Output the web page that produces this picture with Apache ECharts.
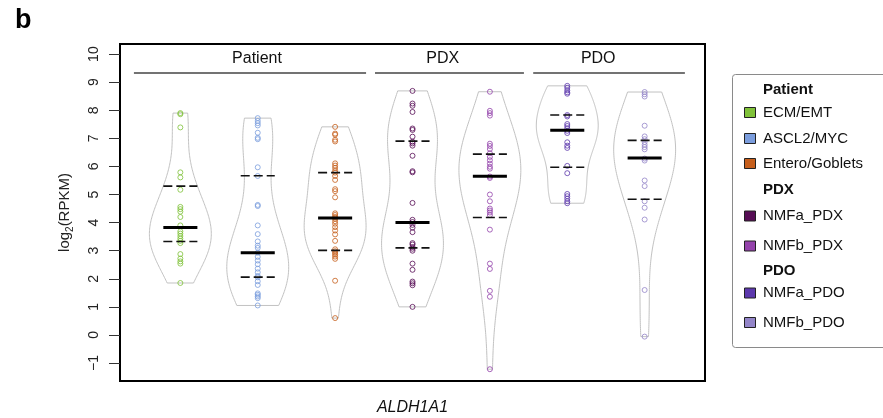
<!DOCTYPE html>
<html>
<head>
<meta charset="utf-8">
<script src="https://cdn.jsdelivr.net/npm/echarts@6/dist/echarts.min.js"></script>
<style>
  html, body { margin: 0; padding: 0; background: #ffffff; }
  #chart { width: 883px; height: 418px; }
</style>
</head>
<body>
<div id="chart"></div>
<script>
// ALDH1A1 expression per subtype, log2(RPKM)
const groupNames = ['ECM/EMT', 'ASCL2/MYC', 'Entero/Goblets', 'NMFa_PDX', 'NMFb_PDX', 'NMFa_PDO', 'NMFb_PDO'];
const groupColors = ['#80c23a', '#7b9ddd', '#c65f1c', '#560d55', '#9443ab', '#5c38ad', '#9385c8'];

const ecmEmt = [7.90, 7.86, 7.39, 5.79, 5.61, 5.17, 4.56, 4.48, 4.39, 4.20, 3.90, 3.69, 3.61, 3.52, 3.43, 3.35, 3.27, 2.88, 2.72, 2.62, 2.54, 1.85];
const ascl2Myc = [7.72, 7.62, 7.54, 7.46, 7.20, 7.02, 6.97, 5.97, 5.66, 4.63, 4.59, 3.90, 3.59, 3.33, 3.18, 3.10, 2.93, 2.78, 2.65, 2.52, 2.36, 2.23, 2.10, 2.05, 1.91, 1.78, 1.48, 1.43, 1.37, 1.31, 1.05];
const enteroGoblets = [7.41, 7.17, 7.13, 6.95, 6.89, 6.11, 6.03, 5.95, 5.85, 5.78, 5.66, 5.52, 5.19, 5.12, 4.90, 4.33, 4.27, 4.20, 4.14, 4.05, 3.96, 3.84, 3.72, 3.58, 3.35, 3.05, 2.98, 2.92, 2.86, 2.79, 2.71, 1.93, 0.60];
const nmfaPdx = [8.69, 8.24, 8.16, 7.94, 7.35, 7.30, 7.06, 6.88, 6.82, 6.74, 6.38, 5.83, 5.79, 4.70, 4.10, 4.02, 3.92, 3.82, 3.66, 3.27, 3.22, 3.13, 3.07, 3.00, 2.54, 2.32, 1.90, 1.84, 1.77, 1.00];
const nmfbPdx = [8.66, 7.98, 7.90, 7.81, 6.81, 6.73, 6.62, 6.47, 6.34, 6.22, 6.10, 5.99, 5.92, 5.64, 5.59, 5.00, 4.76, 4.50, 4.43, 4.36, 4.27, 3.75, 2.54, 2.35, 1.57, 1.36, -1.22];
const nmfaPdo = [8.87, 8.80, 8.71, 8.64, 8.59, 7.83, 7.78, 7.51, 7.44, 7.36, 7.27, 7.19, 6.86, 6.74, 6.66, 6.02, 5.76, 5.02, 4.94, 4.85, 4.76, 4.69];
const nmfbPdo = [8.65, 8.57, 8.49, 7.45, 7.07, 6.97, 6.87, 6.77, 6.69, 6.61, 6.28, 6.21, 5.50, 5.30, 4.76, 4.53, 4.11, 1.60, -0.06];

const medians = [3.83, 2.93, 4.16, 4.00, 5.65, 7.29, 6.30];
const lowerQuartiles = [3.33, 2.06, 3.01, 3.10, 4.18, 5.97, 4.83];
const upperQuartiles = [5.30, 5.67, 5.78, 6.90, 6.44, 7.83, 6.93];

const yTicks = [-1, 0, 1, 2, 3, 4, 5, 6, 7, 8, 9, 10];
const sourceNames = ['Patient', 'PDX', 'PDO'];
const sourceMembers = [[0, 1, 2], [3, 4], [5, 6]];

const groupValues = [ecmEmt, ascl2Myc, enteroGoblets, nmfaPdx, nmfbPdx, nmfaPdo, nmfbPdo];

// Header bars above the violins, in axis units: [lineStart, lineEnd, labelCentre]
const headerLayout = [[0.40, 3.40, 1.99], [3.515, 5.44, 4.39], [5.56, 7.52, 6.40]];
const HEADER_TEXT_Y = 9.83, HEADER_LINE_Y = 9.33;

const FONT = '"Liberation Sans", Arial, Helvetica, sans-serif';

// Gaussian kernel density, normal-reference bandwidth, trimmed to the data range,
// scaled so the widest point of each violin is 0.4 axis units from the centre.
function violinProfile(vals) {
  const n = vals.length;
  const mean = vals.reduce((a, b) => a + b, 0) / n;
  const sd = Math.sqrt(vals.reduce((a, b) => a + (b - mean) * (b - mean), 0) / (n - 1));
  const h = sd * Math.pow(4 / (3 * n), 0.2);
  const lo = Math.min(...vals), hi = Math.max(...vals);
  const steps = 120;
  const pts = [];
  for (let i = 0; i <= steps; i++) {
    const y = lo + (hi - lo) * i / steps;
    let d = 0;
    for (const v of vals) { const z = (y - v) / h; d += Math.exp(-0.5 * z * z); }
    pts.push([y, d]);
  }
  const m = Math.max(...pts.map(p => p[1]));
  return pts.map(p => [p[0], p[1] / m * 0.4]);
}
const profiles = groupValues.map(violinProfile);

const chart = echarts.init(document.getElementById('chart'), null, { renderer: 'canvas' });

const violinSeries = {
  type: 'custom',
  silent: true,
  z: 1,
  data: groupNames.map((_, i) => [i + 1, medians[i]]),
  encode: { x: 0, y: 1 },
  renderItem(params, api) {
    const gi = params.dataIndex;
    const cx = api.value(0);
    const prof = profiles[gi];
    const left = prof.map(([y, w]) => api.coord([cx - w, y]));
    const right = prof.slice().reverse().map(([y, w]) => api.coord([cx + w, y]));
    return {
      type: 'polygon',
      shape: { points: left.concat(right) },
      style: { fill: 'none', stroke: '#c2c2c2', lineWidth: 1 }
    };
  }
};

const pointSeries = groupValues.map((vals, i) => ({
  type: 'scatter',
  name: groupNames[i],
  z: 2,
  silent: true,
  symbol: 'circle',
  symbolSize: 5,
  itemStyle: { color: 'rgba(255,255,255,0)', borderColor: groupColors[i], borderWidth: 1 },
  data: vals.map(v => [i + 1, v])
}));

const summarySeries = {
  type: 'custom',
  silent: true,
  z: 3,
  data: groupNames.map((_, i) => [i + 1, medians[i], lowerQuartiles[i], upperQuartiles[i]]),
  encode: { x: 0, y: 1 },
  renderItem(params, api) {
    const x = api.value(0);
    const half = api.size([0.22, 0])[0];
    const seg = (v, style) => {
      const p = api.coord([x, v]);
      return { type: 'line', shape: { x1: p[0] - half, y1: p[1], x2: p[0] + half, y2: p[1] }, style };
    };
    return {
      type: 'group',
      children: [
        seg(api.value(2), { stroke: '#111', lineWidth: 1.6, lineDash: [9, 4] }),
        seg(api.value(3), { stroke: '#111', lineWidth: 1.6, lineDash: [9, 4] }),
        seg(api.value(1), { stroke: '#000', lineWidth: 3 })
      ]
    };
  }
};

const headerSeries = {
  type: 'custom',
  silent: true,
  z: 4,
  data: sourceNames.map((name, i) => [headerLayout[i][2], HEADER_TEXT_Y, headerLayout[i][0], headerLayout[i][1]]),
  encode: { x: 0, y: 1 },
  renderItem(params, api) {
    const t = api.coord([api.value(0), HEADER_TEXT_Y]);
    const a = api.coord([api.value(2), HEADER_LINE_Y]);
    const b = api.coord([api.value(3), HEADER_LINE_Y]);
    return {
      type: 'group',
      children: [
        { type: 'text', x: t[0], y: t[1],
          style: { text: sourceNames[params.dataIndex], align: 'center', verticalAlign: 'middle',
                   fontSize: 16, fontFamily: FONT, fill: '#111' } },
        { type: 'line', shape: { x1: a[0], y1: a[1], x2: b[0], y2: b[1] },
          style: { stroke: '#444', lineWidth: 1.6 } }
      ]
    };
  }
};

// Legend: section headers followed by their member swatches
const legendHeaderY = [90, 190, 271];
const legendItemY = [112.5, 138.5, 163.5, 216, 246, 293, 322.5];
const legendChildren = [
  { type: 'rect', shape: { x: 732.5, y: 74.5, width: 175, height: 273, r: 3 },
    style: { fill: '#ffffff', stroke: '#8a8a8a', lineWidth: 1 } }
];
sourceNames.forEach((name, s) => {
  legendChildren.push({ type: 'text', x: 763, y: legendHeaderY[s],
    style: { text: name, fontSize: 15, fontWeight: 'bold', fontFamily: FONT, fill: '#111', verticalAlign: 'middle' } });
  sourceMembers[s].forEach(gi => {
    const y = legendItemY[gi];
    legendChildren.push({ type: 'rect', shape: { x: 744.5, y: y - 5, width: 11, height: 10 },
      style: { fill: groupColors[gi], stroke: '#222', lineWidth: 1 } });
    legendChildren.push({ type: 'text', x: 763, y: y,
      style: { text: groupNames[gi], fontSize: 15, fontFamily: FONT, fill: '#111', verticalAlign: 'middle' } });
  });
});

chart.setOption({
  animation: false,
  backgroundColor: '#ffffff',
  grid: {
    left: 120, top: 44, width: 585, height: 337, outerBoundsMode: 'none', containLabel: false,
    show: true, borderColor: '#000', borderWidth: 2, backgroundColor: 'rgba(0,0,0,0)'
  },
  xAxis: {
    type: 'value', min: 0.22, max: 7.78,
    axisLine: { show: false }, axisTick: { show: false }, axisLabel: { show: false }, splitLine: { show: false },
    name: 'ALDH1A1', nameLocation: 'middle', nameGap: 19,
    nameTextStyle: { fontSize: 16, fontStyle: 'italic', fontFamily: FONT, color: '#111' }
  },
  yAxis: {
    type: 'value', min: -1.64, max: 10.36,
    splitLine: { show: false },
    axisLine: { show: false },
    axisTick: { show: true, length: 11, customValues: yTicks, lineStyle: { color: '#333', width: 1 } },
    axisLabel: {
      customValues: yTicks, rotate: 90, margin: 19, fontSize: 14, fontFamily: FONT, color: '#222',
      formatter: v => String(v).replace('-', '\u2212')
    },
    name: '{n|log}{s|2}{n|(RPKM)}', nameLocation: 'middle', nameRotate: 90, nameGap: 45,
    nameTextStyle: {
      fontFamily: FONT, color: '#222',
      rich: {
        n: { fontSize: 15, fontFamily: FONT, color: '#222', lineHeight: 20, verticalAlign: 'middle' },
        s: { fontSize: 10, fontFamily: FONT, color: '#222', lineHeight: 10, verticalAlign: 'bottom' }
      }
    }
  },
  graphic: [
    { type: 'text', x: 15, y: 7, style: { text: 'b', fontSize: 27, fontWeight: 'bold', fontFamily: FONT, fill: '#000' } },
    { type: 'group', children: legendChildren }
  ],
  series: [violinSeries, ...pointSeries, summarySeries, headerSeries]
});
</script>
</body>
</html>
